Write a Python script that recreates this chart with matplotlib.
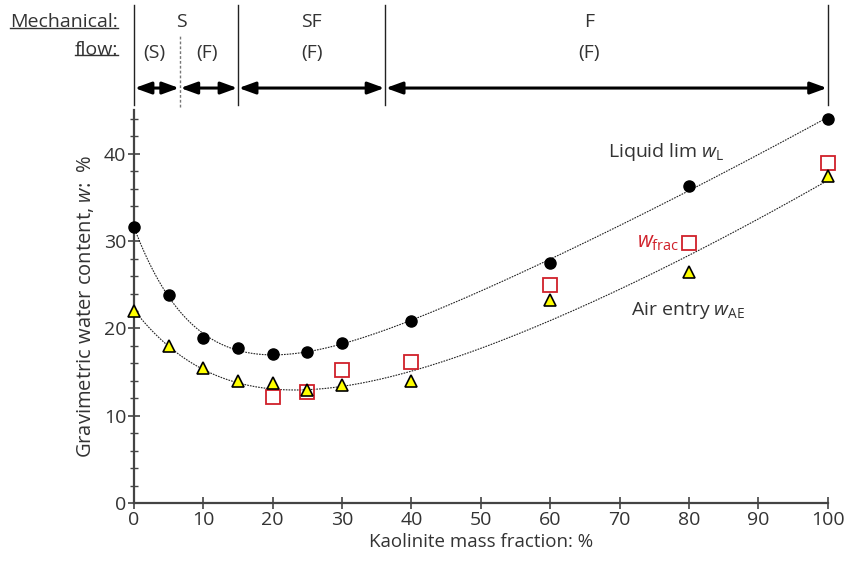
import matplotlib
matplotlib.use('Agg')
import matplotlib.pyplot as plt
import matplotlib.transforms as mtransforms
from matplotlib.lines import Line2D
import numpy as np

plt.rcParams['font.family'] = ['Open Sans', 'DejaVu Sans']
plt.rcParams['mathtext.fontset'] = 'custom'
plt.rcParams['mathtext.rm'] = 'Open Sans'
plt.rcParams['mathtext.it'] = 'Open Sans:italic'

TXT = '#333333'
RED = '#d0202a'

# DATA
kaolinite = [0, 5, 10, 15, 20, 25, 30, 40, 60, 80, 100]
liquid_limit = [31.6, 23.8, 18.9, 17.8, 17.1, 17.3, 18.3, 20.9, 27.5, 36.3, 44.0]
air_entry = [22.0, 18.0, 15.5, 14.0, 13.8, 13.0, 13.5, 14.0, 23.2, 26.5, 37.5]
frac_x = [20, 25, 30, 40, 60, 80, 100]
w_frac = [12.2, 12.7, 15.2, 16.2, 25.0, 29.8, 38.9]

# regime boundaries (kaolinite %) and labels
bounds = [0, 15, 36.2, 100]
split_s = 6.6
top_labels = [(6.8, 'S'), (25.6, 'SF'), (65.6, 'F')]
sub_labels = [(3.0, '(S)'), (10.5, '(F)'), (25.6, '(F)'), (65.6, '(F)')]


def fit_curve(x, y):
    x = np.asarray(x, float)
    y = np.asarray(y, float)
    best = None
    for c in np.linspace(2, 20, 181):
        A = np.column_stack([np.ones_like(x), np.exp(-x / c), x, x ** 2])
        coef = np.linalg.lstsq(A, y, rcond=None)[0]
        r = np.sum((A @ coef - y) ** 2)
        if best is None or r < best[0]:
            best = (r, c, coef)
    _, c, coef = best
    return lambda t: coef[0] + coef[1] * np.exp(-t / c) + coef[2] * t + coef[3] * t ** 2


# CREATING FIGURE AND AXES
fig = plt.figure(figsize=(8.48, 5.68), dpi=100)
ax = fig.add_axes([0.158, 0.1144, 0.818, 0.6916])

xs = np.linspace(0, 100, 400)
ax.plot(xs, fit_curve(kaolinite, liquid_limit)(xs), color='#222222', lw=0.8, ls=(0, (1.5, 1)))
# air entry trend: triangles plus the two low-clay w_frac points
low_x = kaolinite + frac_x[:2]
low_y = air_entry + w_frac[:2]
ax.plot(xs, fit_curve(low_x, low_y)(xs), color='#222222', lw=0.8, ls=(0, (1.5, 1)))

ax.plot(frac_x, w_frac, ls='none', marker='s', ms=10, mfc='none', mec=RED, mew=1.3, clip_on=False, zorder=3)
ax.plot(kaolinite, liquid_limit, ls='none', marker='o', ms=8, color='black', clip_on=False, zorder=4)
ax.plot(kaolinite, air_entry, ls='none', marker='^', ms=8, mfc='#ffff00', mec='black', mew=1.2, clip_on=False, zorder=4)

# CUSTOMIZING AXIS
ax.set_xlim(0, 100)
ax.set_ylim(0, 45)
ax.set_xticks(range(0, 101, 10))
ax.set_yticks(range(0, 41, 10))
ax.set_yticks(range(0, 45, 2), minor=True)
ax.spines[['right', 'top']].set_visible(False)
for s in ['left', 'bottom']:
    ax.spines[s].set_color('#444444')
    ax.spines[s].set_linewidth(1.6)
ax.tick_params(axis='both', which='major', direction='inout', length=9, width=1.2,
               colors='#444444', labelcolor=TXT, labelsize=14, pad=1)
ax.tick_params(axis='y', which='minor', direction='inout', length=6, width=1.0, colors='#444444')
ax.set_xlabel('Kaolinite mass fraction: %', fontsize=13.5, color=TXT, labelpad=3)
ax.set_ylabel('Gravimetric water content, $\\mathit{w}$:  %', fontsize=14.5, color=TXT, labelpad=6)

# LABELS IN PLOT
ax.text(68.4, 40.2, 'Liquid lim $\\mathit{w}_{\\mathrm{L}}$', fontsize=14, color=TXT, va='center')
ax.text(78.6, 29.8, '$\\mathit{w}_{\\mathrm{frac}}$', fontsize=15, color=RED, va='center', ha='right')
ax.text(71.6, 22.1, 'Air entry $\\mathit{w}_{\\mathrm{AE}}$', fontsize=14, color=TXT, va='center')

# TOP REGIME BAR
tr = mtransforms.blended_transform_factory(ax.transData, fig.transFigure)
for b in bounds:
    fig.add_artist(Line2D([b, b], [0.815, 0.991], transform=tr, color='#222222', lw=1.0))
fig.add_artist(Line2D([split_s, split_s], [0.812, 0.938], transform=tr, color='#777777', lw=1.0, ls=(0, (2, 1.5))))

arrow_y = 0.845
segs = [bounds[0], split_s] + bounds[1:]
for a, b in zip(segs[:-1], segs[1:]):
    ax.annotate('', xy=(b, arrow_y), xytext=(a, arrow_y), xycoords=tr, textcoords=tr,
                arrowprops=dict(arrowstyle='<|-|>,head_length=0.55,head_width=0.2',
                                mutation_scale=18, color='black', lw=2.2,
                                shrinkA=0.5, shrinkB=0.5))

for x, s in top_labels:
    ax.text(x, 0.961, s, transform=tr, ha='center', va='center', fontsize=14, color=TXT)
for x, s in sub_labels:
    ax.text(x, 0.907, s, transform=tr, ha='center', va='center', fontsize=14, color=TXT)

t1 = fig.text(118 / 848, 0.961, 'Mechanical:', ha='right', va='center', fontsize=14, color=TXT)
t2 = fig.text(118 / 848, 0.912, 'flow:', ha='right', va='center', fontsize=14, color=TXT)

# UNDERLINES
fig.canvas.draw()
r = fig.canvas.get_renderer()
for t in [t1, t2]:
    bb = t.get_window_extent(r).transformed(fig.transFigure.inverted())
    yl = bb.y0 + 0.2 * (bb.y1 - bb.y0)
    fig.add_artist(Line2D([bb.x0, bb.x1], [yl, yl], transform=fig.transFigure, color=TXT, lw=1.0))

plt.savefig('out.png', dpi=100)
